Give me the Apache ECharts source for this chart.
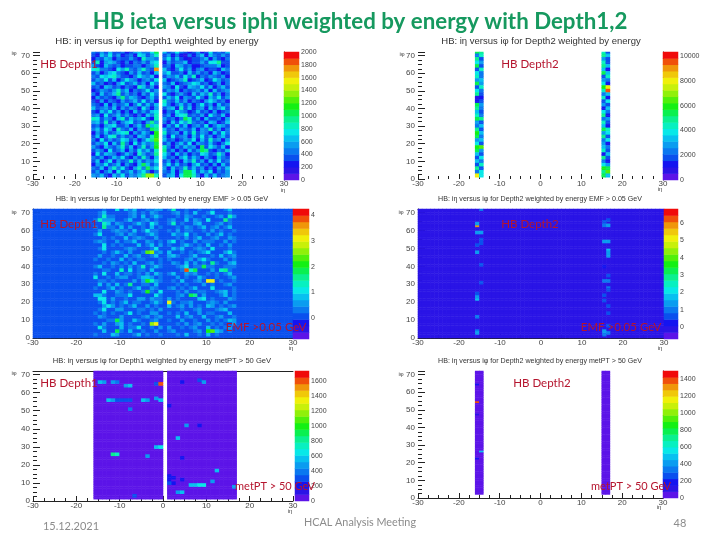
<!DOCTYPE html>
<html><head><meta charset="utf-8">
<style>html,body{margin:0;padding:0;background:#fff}#c{width:720px;height:540px}</style>
<script src="https://cdn.jsdelivr.net/npm/echarts@6/dist/echarts.min.js"></script>
</head><body><div id="c"></div>
<script>
// Colour levels (base-36 digit = palette level, rows from top to bottom).
const palette = ['#5c14e8','#2a14e6','#1414f0','#0a50ee','#0a78f0','#0a9cf0','#08c0f0','#08e8e8','#08f0c0','#0af090',
                 '#0af050','#14f014','#50f00a','#90f00a','#c8f00a','#f0f00a','#f0c80a','#f0960a','#f0500a','#f00a0a'];
const p1Rows = [
"4353 6334 2356 447a 6347 4323 5237 3436","3264 7352 3427 6358 3524 2142 4626 4353","2436 5243 3532 8554 4736 3213 3462 5324",
"3825 6532 4243 5367 2534 4623 3537 7933","5326 4342 3344 2458 3426 5342 2344 4623","7844 3275 8435 843h 6324 7352 4523 3264",
"3524 6743 2536 3426 5733 4263 5342 6423","4376 7853 3247 5462 3546 3748 2435 4352","3547 3624 7542 4537 6234 5823 4623 7534",
"6342 3257 3463 5274 4362 3457 6342 3524","3426 5342 4328 6352 5427 3265 4736 2463","2354 3584 6243 4735 3546 2434 5362 6345",
"4263 4693 5342 5374 7324 5326 3648 3524","2534 3259 4653 2463 3647 2543 7426 4735","3152 4325 3463 7352 8436 3524 3257 5342",
"4326 2534 6247 3636 7424 6352 4735 2634","6345 3625 3542 7425 3562 8362 4526 3573","3264 7352 4263 5367 2437 5423 6342 5234",
"4527 3463 5324 2648 3526 7834 3527 4362","8735 4268 3645 7328 5342 4a83 5263 3425","5638 3524 6734 2595 4263 7584 3426 5236",
"3425 6733 5246 3a68 2537 3624 5372 4653","4637 5284 3625 43a9 6342 5436 2548 3524","2536 3467 8253 642b 8345 2638 3542 6374",
"3624 7835 3426 538b 5273 4526 3735 2463","4273 5347 6352 479c 6342 3547 2638 4525","3547 2639 4273 645a 3524 6372 5436 3247",
"5326 4358 3624 835b 8425 3645 2a37 5362","3542 7346 2537 4638 9352 4263 5a93 2436","2736 5423 6428 5349 7426 3524 3763 4852",
"4352 3647 3253 8426 6342 5736 4253 2643","3624 7253 4836 3547 3524 2648 3526 3734","2547 3462 5326 a635 4736 3425 7342 5263",
"4362 5847 3258 4a57 5263 4836 3524 2536","3524 6273 4635 7424 4362 5aa7 3647 2435","5463 2647 3546 9dd8 3562 7aa8 4263 6345"];
const p2Rows = ["a9 83","48 96","93 53","75 83","a3 96","38 62","74 a6","84 38","56 54","a5 72","38 bf","74 8i","93 46","12 82","23 37","a5 53",
"94 26","63 74","84 92","a9 45","53 83","46 62","93 a8","b6 57","a4 93","56 47","73 52","bc 64","a5 83","63 26","37 93","64 42","38 75","93 ba","47 9c","f7 a6"];
const p3Rows = [
"3343 3736 4633 4455 4833 4334 3343 3463","3463 3333 4534 3543 3453 4363 3473 3343","3484 4333 4536 3464 3343 5433 4334 5385",
"4855 5334 6334 5343 4533 6354 3733 3943","3386 3543 3464 3753 4834 3356 3334 5343","4394 4363 5334 3634 3343 5434 6345 3463",
"3533 4544 3634 7443 4353 4433 4353 4334","4733 3453 5433 4643 3644 7343 3534 6343","3343 4336 3454 3353 3343 5346 3345 3354",
"4543 3534 4633 5434 5734 3353 4443 3534","3373 4343 3363 4635 4334 6434 3633 4353","3473 3334 5433 3473 3646 3345 4373 3343",
"3343 4643 5334 cd45 6334 3434 5733 3574","3533 4336 3453 3463 5643 3463 3343 6345","4334 3363 4344 3334 4333 4535 7433 3534",
"3343 5434 3633 4534 3543 6353 4394 3356","4633 4343 5348 3464 3345 7344 a443 3444","3344 3383 7344 3633 3334 i8a3 3353 8943",
"4373 3634 4343 5364 4633 5453 3434 3463","7334 3455 3346 6534 3353 4336 4334 3345","3443 4333 3535 b854 3436 3345 3ff3 4334",
"3635 3634 9334 4363 3343 4333 5343 3453","4334 6343 3463 3543 4534 3463 3373 3334","3373 3543 4334 b437 3343 5334 4334 5634",
"6643 3444 7333 3374 3345 3a93 5333 4634","3773 5334 3355 3544 5343 3336 7343 3354","3473 4346 3443 3464 f434 4533 3454 3533",
"3357 5343 4633 5343 6345 3534 3653 4345","3473 3553 3344 3435 3334 3345 3334 5633","4343 4334 7343 3553 4343 6335 3443 3363",
"3543 3353 3334 5345 3363 4533 6334 5334","3334 4a53 3643 3453 4335 3343 3534 3465","4353 3563 4334 3df3 3343 5345 3343 4335",
"3743 3363 4473 3435 5334 3453 3634 3453","3363 3a43 6334 3353 4533 3345 3bc6 5343","4333 6533 3463 4334 3343 6334 3634 3333"];
// [eta, phi, level]
const p4Hot = [[-16,62,17],[-16,63,5],[-15,71,4],[-16,58,5],[-15,58,5],[-15,54,3],[-15,52,3],[-16,51,3],[-16,47,5],[-15,40,3],[-15,30,3],[-16,24,3],
[-16,21,6],[-16,22,5],[-16,11,4],[-16,3,4],[-16,2,5],[16,65,3],[15,64,3],[15,62,4],[16,62,5],[16,53,5],[15,53,5],[16,48,6],[16,47,5],[16,45,5],
[15,39,2],[16,34,3],[16,31,4],[15,31,4],[16,27,4],[16,26,3],[15,23,3],[15,20,3],[16,17,3],[16,13,3],[16,6,3],[15,3,5],[15,1,4],[16,2,4]];
const p5Hot = [[-15,65,6],[-14,65,5],[-12,65,5],[-11,65,4],[-9,63,5],[-8,63,6],[-13,55,6],[-12,55,5],[-11,55,3],[-10,55,3],[-9,55,3],[-8,55,3],[-5,55,6],[-4,55,5],
[-2,56,5],[-1,55,6],[-8,50,4],[-1,64,18],[-2,64,3],[-12,25,9],[-11,25,8],[-4,24,5],[-1,29,7],[-2,29,6],[-7,2,3],[5,41,5],[8,41,2],[8,66,3],[9,65,5],[3,34,6],
[12,16,6],[11,10,5],[6,8,6],[7,8,6],[8,8,7],[9,8,7],[4,4,6],[3,4,5],[1,13,2],[1,11,2],[2,9,2],[1,9,3],[4,11,2],[2,12,2],[16,7,5],[4,65,2],[4,23,2],[1,52,2]];
const p6Hot = [[-16,54,18],[-16,64,2],[-15,26,6],[-16,22,2],[-16,47,1]];
const etaBins = Array.from({length:60},(_,i)=>i-30);
const phiBins = Array.from({length:72},(_,i)=>i);
const levelBins = palette.map((_,i)=>i);
const barrelEta = etaBins.filter(e=>e>=-16&&e<=16&&e!==0);
const edgeEta = [-16,-15,15,16];
const etaTicks = [-30,-20,-10,0,10,20,30];
const colourRanges = [[0,2000],[0,10323],[-0.83,4.25],[-0.68,6.8],[0,1733],[0,1490]];
const colourTicks = [[0,200,400,600,800,1000,1200,1400,1600,1800,2000],[0,2000,4000,6000,8000,10000],[0,1,2,3,4],[0,1,2,3,4,5,6],
                     [0,200,400,600,800,1000,1200,1400,1600],[0,200,400,600,800,1000,1200,1400]];

const cell=(m,e,p,l)=>{m.set(e+','+p,l)};
function fromRows(rows,etas,bg){
  const m=new Map();
  if(bg!==undefined) etaBins.forEach(e=>phiBins.forEach(p=>cell(m,e,p,bg)));
  rows.forEach((r,k)=>{
    const s=r.replace(/ /g,''), i=rows.length-1-k;
    etas.forEach((e,j)=>{
      const l=parseInt(s[j],36);
      cell(m,e,1+2*i,l); if(2+2*i<72) cell(m,e,2+2*i,l);
    });
  });
  return m;
}
function fromHot(hot,etas,base,from,thick){
  const m=new Map();
  etas.forEach(e=>phiBins.forEach(p=>{ if(p>=from) cell(m,e,p,base); }));
  hot.forEach(h=>{cell(m,h[0],h[1],h[2]); if(thick) cell(m,h[0],h[1]+1,h[2]);});
  return m;
}
function fullBg(level){ const m=new Map(); etaBins.forEach(e=>phiBins.forEach(p=>cell(m,e,p,level))); return m; }
function toData(m){ const d=[]; m.forEach((l,k)=>{const [e,p]=k.split(',').map(Number); if(p<72) d.push([e+30,p,l]);}); return d; }

const p4Map=fullBg(1); p4Hot.forEach(h=>{cell(p4Map,h[0],h[1],h[2]);cell(p4Map,h[0],h[1]+1,h[2]);});
const maps=[fromRows(p1Rows,barrelEta),fromRows(p2Rows,edgeEta),fromRows(p3Rows,barrelEta,3),p4Map,
            fromHot(p5Hot,barrelEta,0,1,true),fromHot(p6Hot,edgeEta,0,2,false)];

// pixel layout: main plot [left,right,top,bottom], colour bar [left,right,top,bottom]
const layout=[
 {m:[33,284,52,179],b:[284,299,52,180],left:false,bottom:false,top:false,bar:true},
 {m:[418,663,52,179],b:[663,678,52,180],left:false,bottom:false,top:false,bar:true},
 {m:[33,293,209,338],b:[293,309,209,339],left:true,bottom:true,top:true,bar:false},
 {m:[418,664,209,338],b:[664,678,209,339],left:true,bottom:true,top:true,bar:false},
 {m:[33,293,371,501],b:[295,309,371,501],left:false,bottom:true,top:true,bar:false},
 {m:[418,663,371,498],b:[663,678,371,498],left:false,bottom:true,top:false,bar:true}];

const opt={animation:false,backgroundColor:'#fff',grid:[],xAxis:[],yAxis:[],series:[],
  visualMap:{type:'continuous',show:false,min:0,max:19,dimension:2,inRange:{color:palette},seriesIndex:[]},graphic:[]};
const lab={fontFamily:'Liberation Sans',fontSize:8,color:'#444'};
const lab7={fontFamily:'Liberation Sans',fontSize:7,color:'#444'};
const tickC='#222';
function hidden(type,gridIndex,data,extra){return Object.assign({type,gridIndex,show:false,data},extra||{});}
layout.forEach((L,i)=>{
  const g=opt.grid.length;
  opt.grid.push({left:L.m[0],top:L.m[2],width:L.m[1]-L.m[0],height:L.m[3]-L.m[2]});
  const xc=opt.xAxis.length, yc=opt.yAxis.length;
  opt.xAxis.push(hidden('category',g,etaBins));
  opt.yAxis.push(hidden('category',g,phiBins));
  opt.xAxis.push({type:'value',gridIndex:g,position:'bottom',min:-30,max:30,interval:10,
    axisLine:{show:L.bottom,onZero:false,lineStyle:{color:tickC}},splitLine:{show:false},
    axisTick:{inside:true,length:5,lineStyle:{color:tickC}},minorTick:{show:true,splitNumber:4,length:3,lineStyle:{color:tickC}},
    axisLabel:Object.assign({margin:1},lab)});
  opt.yAxis.push({type:'value',gridIndex:g,position:'left',min:0,max:72,interval:10,
    axisLine:{show:L.left,onZero:false,lineStyle:{color:tickC}},splitLine:{show:false},
    axisTick:{inside:true,length:7,lineStyle:{color:tickC}},minorTick:{show:true,splitNumber:4,length:4,lineStyle:{color:tickC}},
    axisLabel:Object.assign({margin:3,showMaxLabel:false},lab)});
  if(L.top) opt.xAxis.push({type:'value',gridIndex:g,position:'top',min:-30,max:30,
    axisLine:{show:true,onZero:false,lineStyle:{color:tickC}},axisTick:{show:false},axisLabel:{show:false},splitLine:{show:false}});
  opt.visualMap.seriesIndex.push(opt.series.length);
  opt.series.push({type:'heatmap',xAxisIndex:xc,yAxisIndex:yc,data:toData(maps[i]),progressive:0,silent:true,z:1});

  const g2=opt.grid.length;
  opt.grid.push({left:L.b[0],top:L.b[2],width:L.b[1]-L.b[0],height:L.b[3]-L.b[2]});
  const xb=opt.xAxis.length, yb=opt.yAxis.length;
  const R=colourRanges[i], T=colourTicks[i];
  opt.xAxis.push(hidden('category',g2,['z']));
  opt.yAxis.push({type:'category',gridIndex:g2,data:levelBins,show:L.bar,position:'left',
    axisLine:{show:true,lineStyle:{color:'#000',width:1}},axisTick:{show:false},axisLabel:{show:false},splitLine:{show:false}});
  opt.yAxis.push({type:'value',gridIndex:g2,position:'right',min:R[0],max:R[1],
    axisLine:{show:false},splitLine:{show:false},
    axisTick:{inside:true,length:6,customValues:T,lineStyle:{color:'#000',opacity:.55}},
    axisLabel:Object.assign({margin:2,customValues:T,formatter:v=>String(v)},lab7)});
  opt.visualMap.seriesIndex.push(opt.series.length);
  opt.series.push({type:'heatmap',xAxisIndex:xb,yAxisIndex:yb,data:levelBins.map(l=>[0,l,l]),progressive:0,silent:true,z:1});
});

function txt(t,x,y,font,fill,align){opt.graphic.push({type:'text',z:100,x,y,silent:true,
  style:{text:t,font,fill,textAlign:align||'center',textVerticalAlign:'middle'}});}
const green='#16995f', red='#b5152e', gray='#8c8c8c';
txt('HB ieta versus iphi weighted by energy with Depth1,2',360,22,'bold 22.3px Lato',green);
const subC='#333';
txt('HB: iη versus iφ for Depth1 weighted by energy',157,41,'9.7px "Liberation Sans"',subC);
txt('HB: iη versus iφ for Depth2 weighted by energy',541,41,'9.5px "Liberation Sans"',subC);
txt('HB: iη versus iφ for Depth1 weighted by energy EMF > 0.05 GeV',162,199,'7.4px "Liberation Sans"',subC);
txt('HB: iη versus iφ for Depth2 weighted by energy EMF > 0.05 GeV',540,199,'7.1px "Liberation Sans"',subC);
txt('HB: iη versus iφ for Depth1 weighted by energy metPT > 50 GeV',162,361,'7.6px "Liberation Sans"',subC);
txt('HB: iη versus iφ for Depth2 weighted by energy metPT > 50 GeV',540,361,'7.1px "Liberation Sans"',subC);
const rf='11.5px Lato', rf2='11px Lato';
txt('HB Depth1',69,64,rf,red); txt('HB Depth2',530,64,rf,red);
txt('HB Depth1',69,224,rf,red); txt('HB Depth2',530,224,rf,red);
txt('HB Depth1',69,383,rf,red); txt('HB Depth2',542,383,rf,red);
txt('EMF >0.05 GeV',266,327,rf,red); txt('EMF >0.05 GeV',621,327,rf,red);
txt('metPT > 50 GeV',275,486,rf2,red); txt('metPT > 50 GeV',631,486,rf2,red);
txt('15.12.2021',71,526,'11px Lato',gray); txt('HCAL Analysis Meeting',360,523,'10.8px Lato',gray); txt('48',680,523,'11px Lato',gray);
const tiny='6px "Liberation Sans"';
[[283,190],[660,189],[291,348],[660,348],[290,511],[659,507]].forEach(p=>txt('iη',p[0],p[1],tiny,'#444'));
[[14,53],[402,54],[14,212],[401,212],[14,373],[401,374]].forEach(p=>txt('iφ',p[0],p[1],tiny,'#444'));

const chart=echarts.init(document.getElementById('c'),null,{renderer:'canvas'});
chart.setOption(opt);
</script></body></html>
